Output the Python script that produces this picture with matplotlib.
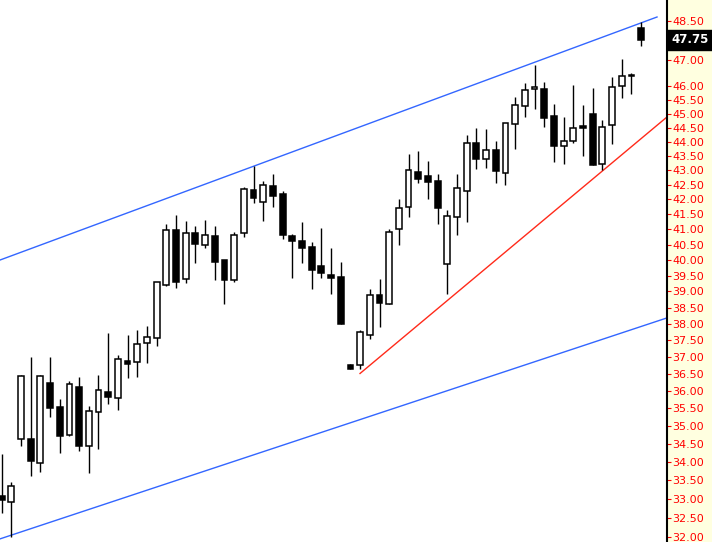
import matplotlib
matplotlib.use("Agg")
import matplotlib.pyplot as plt
from matplotlib.ticker import FixedLocator, NullLocator, FuncFormatter
from matplotlib.transforms import blended_transform_factory

# === DATA (daily candles) ===
opens = [33.09, 32.92, 34.63, 34.64, 33.98, 36.22, 35.54, 34.74, 36.11, 34.43,
         35.39, 35.97, 35.79, 36.88, 36.84, 37.41, 37.56, 39.19, 40.97, 39.38,
         40.87, 40.48, 40.77, 39.99, 39.37, 40.87, 42.31, 41.90, 42.45, 42.18,
         40.78, 40.62, 40.41, 39.80, 39.52, 39.46, 36.76, 36.75, 37.65, 38.90,
         38.62, 41.00, 41.73, 42.94, 42.80, 42.63, 39.86, 41.40, 42.29, 43.94,
         43.38, 43.72, 42.91, 44.62, 45.27, 45.89, 45.89, 44.90, 43.83, 44.02,
         44.54, 44.99, 43.23, 44.58, 46.00, 46.42, 48.21]
highs = [34.22, 33.46, 36.47, 37.01, 36.46, 37.01, 35.76, 36.28, 36.40, 35.57,
         36.47, 37.72, 37.05, 37.66, 37.81, 37.93, 39.30, 41.18, 41.47, 41.27,
         41.10, 41.31, 41.10, 40.00, 40.90, 42.41, 43.14, 42.62, 42.87, 42.28,
         40.85, 41.24, 40.58, 41.04, 40.39, 39.94, 36.78, 37.81, 39.08, 39.39,
         41.01, 42.01, 43.57, 43.67, 43.32, 42.87, 41.64, 42.87, 44.23, 44.47,
         44.45, 44.02, 44.67, 45.61, 46.11, 46.79, 46.15, 45.36, 44.88, 46.05,
         45.31, 45.93, 44.77, 46.34, 47.02, 46.49, 48.43]
lows = [32.64, 32.02, 34.43, 33.63, 33.74, 35.24, 34.24, 34.72, 34.31, 33.70,
        34.37, 35.62, 35.46, 36.37, 36.42, 36.83, 37.34, 39.17, 39.12, 39.26,
        39.89, 40.40, 39.37, 38.62, 39.29, 40.76, 41.87, 41.28, 41.73, 40.69,
        39.43, 39.91, 39.09, 39.43, 38.93, 37.99, 36.63, 36.63, 37.53, 37.89,
        38.60, 40.49, 41.42, 42.55, 42.02, 41.17, 38.93, 40.81, 41.25, 43.03,
        43.08, 42.55, 42.48, 43.75, 44.89, 45.18, 44.53, 43.30, 43.20, 43.94,
        43.50, 43.17, 43.00, 43.91, 45.58, 45.73, 47.51]
closes = [32.97, 33.35, 36.44, 34.04, 36.44, 35.52, 34.73, 36.19, 34.43, 35.43,
          36.02, 35.82, 36.93, 36.80, 37.38, 37.60, 39.29, 40.97, 39.31, 40.87,
          40.51, 40.80, 39.95, 39.37, 40.80, 42.34, 42.04, 42.48, 42.13, 40.82,
          40.63, 40.40, 39.69, 39.59, 39.43, 38.00, 36.65, 37.75, 38.88, 38.65,
          40.90, 41.70, 42.99, 42.71, 42.60, 41.72, 41.43, 42.38, 43.94, 43.40,
          43.72, 42.96, 44.65, 45.30, 45.85, 45.96, 44.85, 43.85, 44.02, 44.47,
          44.49, 43.19, 44.51, 45.96, 46.38, 46.37, 47.75]
last_price = 47.75

# trend lines: (bar index, price) end points
upper_x, upper_y = [-0.165, 67.64], [40.00, 48.64]
lower_x, lower_y = [-0.165, 68.67], [31.96, 38.18]
support_x, support_y = [36.99, 68.67], [36.51, 44.88]

# 46.50 and 48.00 are not labelled on the original axis
price_ticks = [32.0 + 0.5 * k for k in range(34)
               if 32.0 + 0.5 * k not in (46.5, 48.0)]

# === PLOT ===
fig = plt.figure(figsize=(7.12, 5.42), dpi=100, facecolor="#ffffe0")
ax = fig.add_axes([0, 0, 667 / 712, 1])
ax.set_facecolor("white")

xs = list(range(len(opens)))
body_bottom = [min(o, c) for o, c in zip(opens, closes)]
body_height = [max(abs(c - o), 0.01) for o, c in zip(opens, closes)]
body_color = ["white" if c > o else "black" for o, c in zip(opens, closes)]

ax.vlines(xs, lows, highs, color="black", linewidth=1.0, zorder=2)
ax.bar(xs, body_height, bottom=body_bottom, width=0.6, color=body_color,
       edgecolor="black", linewidth=1.1, zorder=3)

ax.plot(upper_x, upper_y, color="#3366ff", linewidth=1.0, zorder=1)
ax.plot(lower_x, lower_y, color="#3366ff", linewidth=1.0, zorder=1)
ax.plot(support_x, support_y, color="#ff2a1a", linewidth=1.0, zorder=1)

ax.set_yscale("log")
ax.set_ylim(31.88, 49.31)
ax.set_xlim(-0.165, 68.67)

ax.yaxis.tick_right()
ax.yaxis.set_major_locator(FixedLocator(price_ticks))
ax.yaxis.set_minor_locator(NullLocator())
ax.yaxis.set_major_formatter(FuncFormatter(lambda v, p: f"{v:.2f}"))
ax.tick_params(axis="y", which="major", colors="red", labelcolor="red",
               length=3, width=0.8, pad=1, labelsize=8)
ax.tick_params(axis="y", which="minor", length=0)
ax.set_xticks([])

for side in ["left", "top", "bottom"]:
    ax.spines[side].set_visible(False)
ax.spines["right"].set_color("black")
ax.spines["right"].set_linewidth(1.5)

# last price marker on the axis
trans = blended_transform_factory(ax.transAxes, ax.transData)
ax.text(1.006, last_price, "47.75", transform=trans, ha="left", va="center",
        color="white", fontweight="bold", fontsize=8.5, clip_on=False, zorder=10,
        bbox=dict(boxstyle="square,pad=0.3", facecolor="black", edgecolor="black"))

plt.savefig("out.png", dpi=100, facecolor=fig.get_facecolor())
